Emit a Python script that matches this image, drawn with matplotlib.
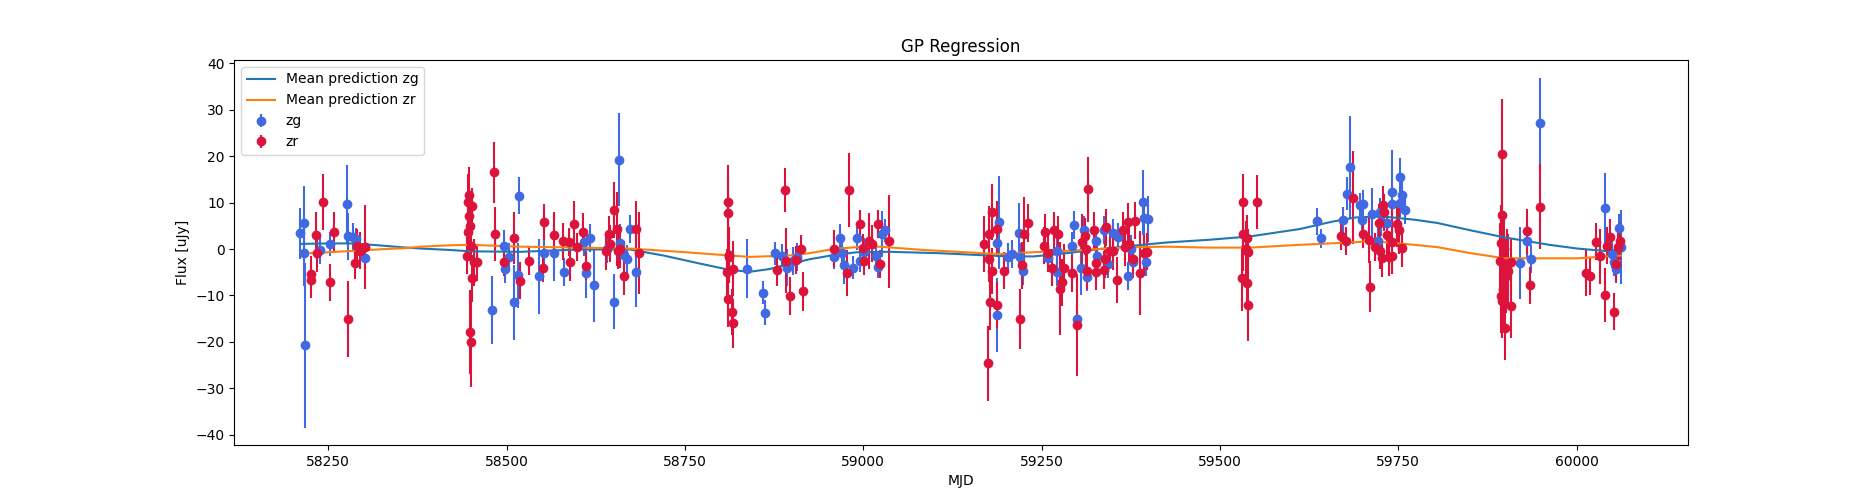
import matplotlib
matplotlib.use("Agg")
import matplotlib.pyplot as plt

# zg band: MJD, flux, error
zg_mjd = [58211, 58216, 58216.5, 58218, 58238, 58252, 58276, 58278, 58285, 58289, 58301,
          58480, 58496, 58498, 58503, 58510, 58516, 58518, 58546, 58553, 58567, 58580,
          58608, 58617, 58612, 58623, 58641, 58650, 58657, 58659, 58664, 58669, 58673, 58682,
          58837, 58859, 58862, 58876, 58886, 58893,
          58902, 58907, 58959, 58968, 58970, 58973, 58985, 58991, 58996, 59001, 59018, 59021,
          59027, 59030, 59187, 59188, 59190,
          59203, 59208, 59219, 59220, 59224, 59259, 59272, 59271, 59293, 59295, 59300, 59306,
          59310, 59314, 59327, 59328, 59337, 59343, 59350, 59357, 59371, 59376, 59378, 59392,
          59393, 59399, 59396,
          59636, 59642, 59672, 59678, 59682, 59696, 59699, 59701, 59713, 59721, 59724, 59726,
          59735, 59741, 59742, 59752, 59753, 59755, 59759,
          59921, 59930, 59936, 59949,
          60040, 60050, 60053, 60055, 60060, 60063]
zg_flux = [3.4, 5.6, -0.9, -20.7, -0.2, 1.1, 9.7, 2.7, 2.5, 2.1, -2.0,
           -13.2, 0.6, -4.3, -1.8, -11.5, -5.6, 11.5, -5.9, -0.9, -0.9, -4.9,
           1.6, 2.3, -5.2, -7.8, -0.1, -11.3, 19.2, 1.3, -1.3, -2.2, 4.3, -5.0,
           -4.2, -9.4, -13.7, -0.9, -1.4, -4.0,
           -2.5, -1.8, -1.8, 2.3, -0.9, -3.5, -4.0, 2.3, -2.5, -0.7, -1.4, -3.8,
           3.2, 4.0, 1.4, -14.2, 5.8,
           -1.8, -1.1, 3.5, -1.8, -4.7, -2.0, -0.4, -4.9, 0.6, 5.2, -15.1, -4.0,
           4.0, -6.1, 1.8, -1.4, 4.0, -3.2, 3.4, 2.5, -5.8, 0.0, -2.9, 10.1,
           6.6, 6.5, -2.9,
           6.0, 2.3, 6.3, 11.9, 17.6, 9.5, 6.3, 9.7, 7.6, 1.8, 7.9, 5.8,
           5.6, 12.2, 9.7, 15.6, 9.9, 11.7, 8.4,
           -3.0, 1.8, -2.2, 27.2,
           8.8, -1.1, -2.9, -4.3, 4.5, 0.4]
zg_err = [5.5, 8, 7, 17.7, 3, 2.6, 8.3, 5, 3, 2.5, 2.5,
          7.3, 3.5, 3, 3, 8, 7, 4, 8, 4, 6, 3,
          3, 3, 5.4, 7.8, 3, 6, 10, 4, 3, 3, 3, 7.5,
          6.3, 2.5, 2.7, 2.5, 2.5, 4,
          3, 3, 2.5, 3, 3, 4, 2.5, 2.5, 2.5, 3, 3, 2.5,
          5, 2.5, 3, 8, 10,
          3, 3, 6.5, 3, 3, 3, 3, 3, 3, 3, 3, 6,
          3, 3, 3, 3, 3, 3, 3, 3, 3, 3, 3, 7,
          4, 5, 3,
          2.9, 2, 2.8, 3.5, 11, 2.5, 3, 3, 5.5, 3, 3, 3,
          3, 9, 3, 4, 3, 3, 3,
          7.7, 4, 3, 9.7,
          7.6, 3, 3, 3, 3, 8]

# zr band: MJD, flux, error
zr_mjd = [58226, 58226.5, 58233, 58234, 58242, 58252, 58258, 58277, 58287, 58290, 58294, 58301,
          58446, 58447, 58448, 58449, 58446.5, 58450, 58445, 58452, 58454, 58459, 58451, 58448.5,
          58449.5,
          58482, 58483.5, 58496, 58510, 58519, 58531, 58551, 58553, 58567, 58579, 58587, 58589,
          58594, 58599,
          58607, 58612, 58640, 58643, 58645, 58650, 58655, 58656, 58659, 58664, 58682, 58685,
          58810, 58811, 58811.5, 58812, 58809.5, 58817, 58811, 58816.5, 58817.5,
          58879, 58890, 58892, 58897.5,
          58906, 58913, 58916, 58959.5, 58977, 58980.5, 58995, 58999, 59001, 59008.5, 59013,
          59021, 59023, 59036.5,
          59170, 59175, 59176, 59176.5, 59178, 59180, 59181, 59187, 59188,
          59197, 59220, 59222, 59225, 59231, 59253.5, 59254.5, 59259, 59265, 59267, 59273,
          59275.5, 59279, 59281, 59293, 59300, 59307, 59310.5, 59312, 59314, 59315, 59323,
          59326, 59327, 59337, 59338.5, 59340, 59345.5, 59350, 59356, 59364, 59366.5, 59371,
          59372, 59378, 59380.5, 59387.5, 59393, 59398,
          59532, 59533, 59531, 59537, 59538, 59539, 59537.5, 59540, 59552,
          59670, 59677, 59686, 59701, 59708.5, 59710, 59718, 59723.5, 59724.5, 59728, 59729,
          59730.5, 59735, 59737, 59741, 59742, 59748, 59751, 59755,
          59896, 59895, 59894, 59898.5, 59893, 59908, 59903, 59904, 59901, 59896.5, 59894.5,
          59895.5, 59908.5, 59900,
          59931, 59934.5, 59949,
          60013, 60018.5, 60028, 60033, 60040, 60042.5, 60046.5, 60052, 60055, 60058, 60061]
zr_flux = [-5.4, -6.6, 3.0, -0.9, 10.1, -7.2, 3.7, -15.0, -3.0, 0.7, -0.4, 0.4,
           10.1, 11.7, 7.2, 5.0, 3.7, 0.7, -1.4, 9.2, -2.9, -2.9, -6.3, -17.8,
           -20.1,
           16.5, 3.2, -2.9, 2.3, -6.8, -2.5, -4.0, 5.8, 3.0, 1.7, 1.6, -2.9,
           5.4, 0.4,
           3.7, -3.7, -0.5, 3.2, 1.1, 8.4, 4.3, -0.4, 0.0, -5.9, 4.3, -0.9,
           10.1, 7.7, -1.3, -1.8, -4.9, -4.2, -10.8, -13.5, -16.0,
           -4.5, 12.7, -2.5, -10.1,
           -2.3, 0.0, -9.1, 0.1, -5.2, 12.7, 5.4, 0.2, -2.5, 1.7, 1.1,
           5.4, -3.2, 1.7,
           1.1, -24.6, 3.2, -2.2, -11.5, 7.9, -4.7, 4.3, -12.0,
           -4.7, -15.1, -3.5, 3.2, 5.6, 0.7, 3.6, -0.9, -4.0, 4.0, 3.2,
           -8.5, -7.2, -4.0, -5.2, -16.4, 1.6, 2.7, 0.0, -4.7, 12.9, 4.0,
           -3.0, -4.9, -4.5, -2.2, 4.7, -0.4, -0.5, -6.7, 4.0, 0.4, 5.8,
           1.1, -2.2, 6.1, -5.2, -0.9, -0.6,
           10.2, 3.2, -6.3, 0.0, 2.3, -0.7, -7.4, -12.0, 10.1,
           2.7, 1.7, 11.0, 3.2, 2.0, -8.1, 0.5, 5.6, -0.4, -2.0, 9.5,
           7.9, 3.0, -1.8, -1.4, 1.6, 5.4, 4.0, 0.2,
           20.5, 7.3, 1.4, 0.0, -2.5, -2.9, -3.6, -4.7, -5.8, -8.6, -10.1,
           -11.2, -12.2, -16.9,
           3.8, -7.8, 9.1,
           -5.2, -5.9, 1.6, -1.6, -9.9, 0.7, 2.5, -13.5, -3.2, 0.4, 1.7]
zr_err = [4, 4, 5, 4, 6, 4, 4.3, 8.2, 3.5, 3.5, 4, 9,
          6, 6, 6, 4, 4, 4, 4, 4, 5, 4, 5, 9,
          9.5,
          6.6, 5.8, 3, 5.6, 4, 3, 3, 3.8, 5, 4, 3, 4,
          5, 3,
          4, 3, 4, 4, 4, 6, 8, 4, 4, 4, 6, 8.8,
          8, 8, 6, 5, 5, 6, 6, 5, 5.2,
          3.5, 4.8, 7, 4,
          3, 3, 4.2, 4, 5, 8, 3, 3, 3, 6, 4,
          3, 3, 10,
          6, 8, 6, 5, 6, 6, 5, 6, 5,
          4, 6.5, 5, 8, 4, 4, 4, 4, 4, 4, 4,
          10, 5, 5, 4, 11, 6, 4, 5, 4, 7, 4,
          4, 4, 4, 4, 4, 4, 4, 5, 4, 4, 4,
          4, 4, 4, 9, 4, 4,
          6, 8, 7, 6, 5, 5, 5, 7.8, 5.9,
          3, 3, 10, 3, 5, 5.5, 3, 4, 4, 4, 4,
          4, 4, 4, 4, 7, 5, 5, 4,
          11.7, 8, 8, 8, 8, 5, 8, 8, 8, 8, 8,
          8, 7, 7,
          4.8, 4, 9.2,
          5, 4, 4, 6, 5.8, 4, 4, 4, 4, 4, 4]

# GP mean predictions
mean_zg_mjd = [58211, 58250, 58285, 58320, 58360, 58380, 58420, 58450, 58520, 58603,
               58673, 58720, 58767, 58813, 58841, 58869, 58897, 58925, 58958, 58991,
               59037, 59107, 59191, 59238, 59285, 59332, 59378, 59425, 59486, 59542,
               59612, 59658, 59691, 59728, 59773, 59805, 59852, 59899, 59962, 60001,
               60039, 60063]
mean_zg = [1.1, 1.2, 1.2, 0.8, 0.3, 0.1, -0.2, -0.5, -0.6, -0.1,
           -0.1, -1.4, -3.0, -4.5, -4.9, -4.3, -3.2, -2.2, -1.3, -0.7,
           -0.6, -0.9, -1.5, -1.6, -0.9, 0.0, 0.7, 1.4, 2.0, 2.7,
           4.3, 5.9, 6.8, 7.0, 6.3, 5.6, 4.0, 2.5, 0.9, 0.1,
           -0.4, -0.5]
mean_zr_mjd = [58225, 58285, 58330, 58360, 58380, 58420, 58450, 58520, 58603, 58673,
               58743, 58813, 58841, 58897, 58925, 58958, 58991, 59023, 59084, 59191,
               59238, 59285, 59332, 59378, 59425, 59486, 59542, 59612, 59682, 59714,
               59773, 59805, 59852, 59899, 59962, 60001, 60039, 60062]
mean_zr = [-0.9, -0.4, 0.0, 0.2, 0.5, 0.8, 0.9, 0.5, 0.3, 0.1,
           -0.6, -1.4, -1.7, -1.4, -0.9, 0.0, 0.4, 0.5, -0.2, -1.1,
           -0.7, -0.4, 0.0, 0.4, 0.5, 0.3, 0.3, 0.9, 1.4, 1.7,
           0.9, 0.4, -0.9, -2.0, -2.0, -2.0, -1.6, -1.4]

fig, ax = plt.subplots(figsize=(18.75, 5), dpi=100)

ax.errorbar(zg_mjd, zg_flux, yerr=zg_err, fmt='o', color='royalblue', label='zg')
ax.errorbar(zr_mjd, zr_flux, yerr=zr_err, fmt='o', color='crimson', label='zr')
ax.plot(mean_zg_mjd, mean_zg, color='C0', label='Mean prediction zg')
ax.plot(mean_zr_mjd, mean_zr, color='C1', label='Mean prediction zr')

ax.set_title('GP Regression')
ax.set_xlabel('MJD')
ax.set_ylabel('Flux [uJy]')
ax.legend(loc='upper left')

fig.savefig('out.png')
